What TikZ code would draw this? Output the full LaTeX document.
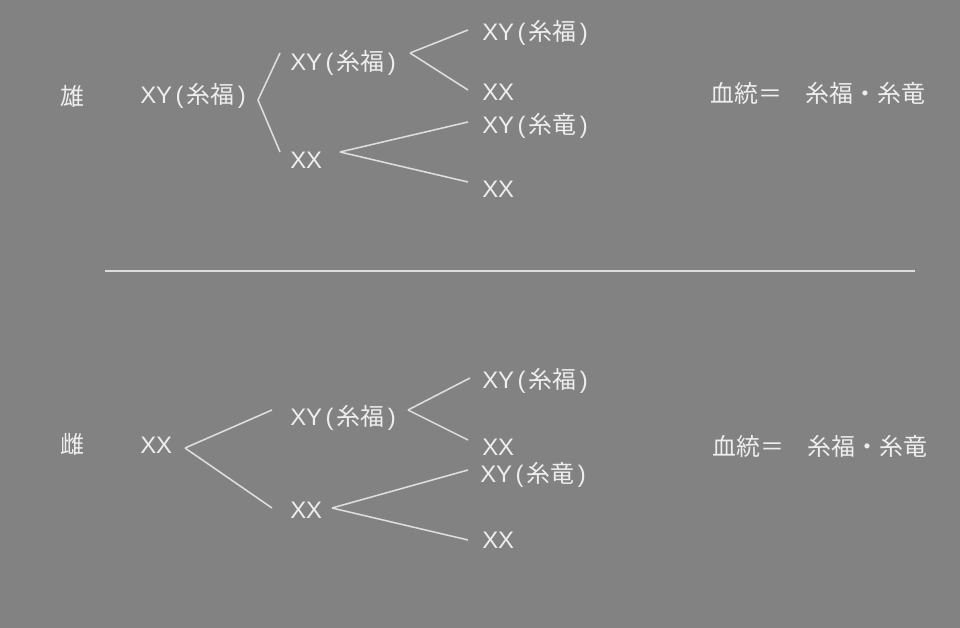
\documentclass[tikz,border=0pt]{standalone}
\usepackage{fontspec}
\setmainfont{Liberation Sans}
\newfontfamily\jpfont{Noto Sans CJK JP}
\usetikzlibrary{calc}
\definecolor{bggrey}{RGB}{130,130,130}
\definecolor{chalk}{RGB}{238,238,238}
\definecolor{twig}{RGB}{222,222,222}
\newcommand{\clan}[1]{\kern2.5pt(\kern2pt{\jpfont #1}\kern2.5pt)}
\begin{document}
\begin{tikzpicture}
        [x=0.025cm,y=-0.025cm,
         every node/.style={anchor=west,inner sep=0,text=chalk,font=\fontsize{17}{20}\selectfont,text height=0.85em,text depth=0.12em},
         branch/.style={draw=twig,line width=1.1pt}]

        \fill[bggrey] (0,0) rectangle (960,628);
        \useasboundingbox (0,0) rectangle (960,628);

        % male line
        \node (male) at (60,100) {\jpfont 雄};
        \node (r1) at (140,98) {XY\clan{糸福}};
        \node (a1) at (290,65) {XY\clan{糸福}};
        \node (b1) at (290,163) {XX};
        \node (a1u) at (482,35) {XY\clan{糸福}};
        \node (a1d) at (482,95) {XX};
        \node (b1u) at (482,128) {XY\clan{糸竜}};
        \node (b1d) at (482,192) {XX};
        \node (sum1) at (710,97) {\jpfont 血統＝　糸福・糸竜};

        \draw[branch] ($(r1.west)+(118,2)$) -- ($(a1.west)+(-10,-12)$);
        \draw[branch] ($(r1.west)+(118,2)$) -- ($(b1.west)+(-10,-11)$);
        \draw[branch] ($(a1.west)+(120,-12)$) -- ($(a1u.west)+(-14,-5)$);
        \draw[branch] ($(a1.west)+(120,-12)$) -- ($(a1d.west)+(-14,-5)$);
        \draw[branch] ($(b1.west)+(50,-11)$) -- ($(b1u.west)+(-14,-6)$);
        \draw[branch] ($(b1.west)+(50,-11)$) -- ($(b1d.west)+(-14,-10)$);

        % divider
        \draw[twig,line width=0.8pt] (105,271) -- (915,271);

        % female line
        \node (female) at (60,448) {\jpfont 雌};
        \node (r2) at (140,448) {XX};
        \node (a2) at (290,420) {XY\clan{糸福}};
        \node (b2) at (290,513) {XX};
        \node (a2u) at (482,383) {XY\clan{糸福}};
        \node (a2d) at (482,450) {XX};
        \node (b2u) at (480,477) {XY\clan{糸竜}};
        \node (b2d) at (482,543) {XX};
        \node (sum2) at (712,450) {\jpfont 血統＝　糸福・糸竜};

        \draw[branch] ($(r2.west)+(45,0)$) -- ($(a2.west)+(-18,-10)$);
        \draw[branch] ($(r2.west)+(45,0)$) -- ($(b2.west)+(-18,-5)$);
        \draw[branch] ($(a2.west)+(118,-10)$) -- ($(a2u.west)+(-12,-5)$);
        \draw[branch] ($(a2.west)+(118,-10)$) -- ($(a2d.west)+(-14,-10)$);
        \draw[branch] ($(b2.west)+(42,-5)$) -- ($(b2u.west)+(-12,-7)$);
        \draw[branch] ($(b2.west)+(42,-5)$) -- ($(b2d.west)+(-14,-3)$);
      \end{tikzpicture}
\end{document}
